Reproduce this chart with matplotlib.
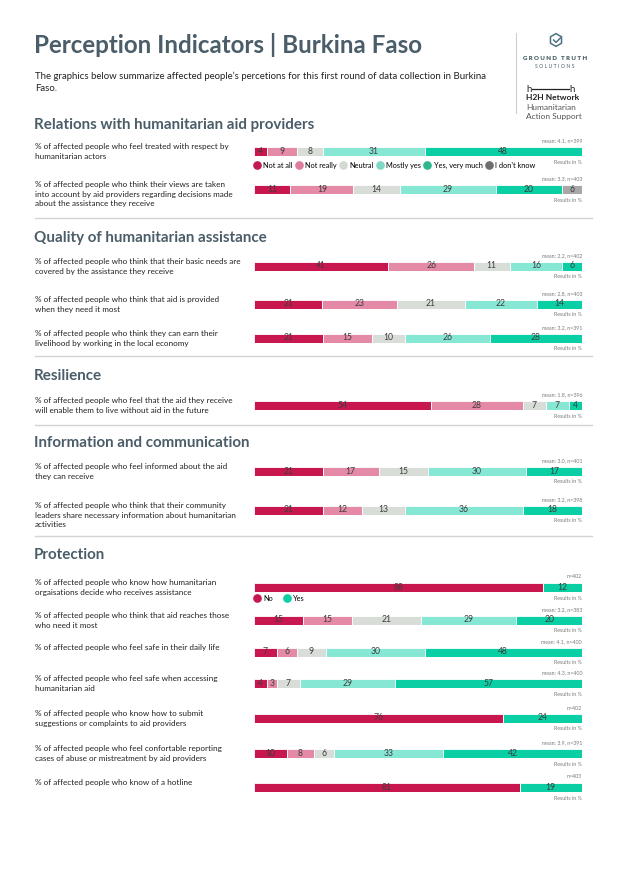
import matplotlib
matplotlib.use("Agg")
import matplotlib.pyplot as plt
from matplotlib.lines import Line2D
from matplotlib.patches import RegularPolygon

# ---- data ---------------------------------------------------------------
TITLE = "Perception Indicators | Burkina Faso"
SUBTITLE = ("The graphics below summarize affected people\u2019s percetions for this first round of data collection in Burkina\n"
            "Faso.")

SECTIONS = [
    "Relations with humanitarian aid providers",
    "Quality of humanitarian assistance",
    "Resilience",
    "Information and communication",
    "Protection",
]

SCALE_LABELS = ["Not at all", "Not really", "Neutral", "Mostly yes", "Yes, very much", "I don't know"]
BINARY_LABELS = ["No", "Yes"]

REL_QUESTIONS = [
    "% of affected people who feel treated with respect by\nhumanitarian actors",
    "% of affected people who think their views are taken\ninto account by aid providers regarding decisions made\nabout the assistance they receive",
]
REL_VALUES = [[4, 9, 8, 31, 48], [11, 19, 14, 29, 20, 6]]
REL_META = ["mean: 4.1, n=399", "mean: 3.3, n=403"]

QUAL_QUESTIONS = [
    "% of affected people who think that their basic needs are\ncovered by the assistance they receive",
    "% of affected people who think that aid is provided\nwhen they need it most",
    "% of affected people who think they can earn their\nlivelihood by working in the local economy",
]
QUAL_VALUES = [[41, 26, 11, 16, 6], [21, 23, 21, 22, 14], [21, 15, 10, 26, 28]]
QUAL_META = ["mean: 2.2, n=402", "mean: 2.8, n=403", "mean: 3.2, n=391"]

RES_QUESTIONS = [
    "% of affected people who feel that the aid they receive\nwill enable them to live without aid in the future",
]
RES_VALUES = [[54, 28, 7, 7, 4]]
RES_META = ["mean: 1.8, n=396"]

INFO_QUESTIONS = [
    "% of affected people who feel informed about the aid\nthey can receive",
    "% of affected people who think that their community\nleaders share necessary information about humanitarian\nactivities",
]
INFO_VALUES = [[21, 17, 15, 30, 17], [21, 12, 13, 36, 18]]
INFO_META = ["mean: 3.0, n=401", "mean: 3.2, n=398"]

PROT_QUESTIONS = [
    "% of affected people who know how humanitarian\norgaisations decide who receives assistance",
    "% of affected people who think that aid reaches those\nwho need it most",
    "% of affected people who feel safe in their daily life",
    "% of affected people who feel safe when accessing\nhumanitarian aid",
    "% of affected people who know how to submit\nsuggestions or complaints to aid providers",
    "% of affected people who feel confortable reporting\ncases of abuse or mistreatment by aid providers",
    "% of affected people who know of a hotline",
]
PROT_VALUES = [[88, 12], [15, 15, 21, 29, 20], [7, 6, 9, 30, 48], [4, 3, 7, 29, 57],
               [76, 24], [10, 8, 6, 33, 42], [81, 19]]
PROT_META = ["n=402", "mean: 3.2, n=383", "mean: 4.1, n=400", "mean: 4.3, n=400",
             "n=402", "mean: 3.9, n=391", "n=403"]

# ---- style --------------------------------------------------------------
SCALE_COLORS = ["#c8174f", "#e48aa6", "#d8ddd8", "#86e8d4", "#0acfa4", "#a8a8a8"]
LEGEND_COLORS = ["#c01a50", "#e07c9c", "#d2dad2", "#80d8c4", "#2cb88e", "#6e6e6e"]
BINARY_COLORS = ["#c8174f", "#0acfa4"]
SLATE = "#4a5d68"
TEXT = "#222222"
META = "#7a7a7a"

plt.rcParams["font.family"] = ["Lato", "DejaVu Sans"]

W, H = 620, 875
BAR_X0, BAR_X1 = 254, 582
BAR_H = 9


def fx(x):
    return x / W


def fy(y):
    return 1 - y / H


def draw_bar(fig, yc, values, meta, binary=False):
    colors = BINARY_COLORS if binary else SCALE_COLORS
    ax = fig.add_axes([fx(BAR_X0), fy(yc + BAR_H / 2), (BAR_X1 - BAR_X0) / W, BAR_H / H])
    left = 0
    for v, c in zip(values, colors):
        ax.barh(0, v, left=left, height=1.0, color=c, edgecolor="white", linewidth=0.6)
        ax.text(left + v / 2, 0, str(v), ha="center", va="center", fontsize=6.2, color="#3c3c3c")
        left += v
    ax.set_xlim(0, sum(values))
    ax.set_ylim(-0.5, 0.5)
    ax.axis("off")
    fig.text(fx(BAR_X1), fy(yc - 10), meta, ha="right", va="center", fontsize=3.8, color=META)
    fig.text(fx(BAR_X1), fy(yc + 11), "Results in %", ha="right", va="center", fontsize=3.8, color=META)
    return ax


def add_legend(ax, labels, colors, y_px, yc, spacing):
    handles = [Line2D([], [], marker="o", linestyle="none", markersize=5.2,
                      markerfacecolor=c, markeredgecolor=c) for c in colors]
    top = (yc + BAR_H / 2 - (y_px - 4)) / BAR_H
    ax.legend(handles, labels, loc="upper left", bbox_to_anchor=(0.0, top),
              ncol=len(labels), frameon=False, fontsize=5.3, borderpad=0,
              handlelength=0.8, handletextpad=0.45, columnspacing=spacing,
              borderaxespad=0)


def plot():
    fig = plt.figure(figsize=(6.2, 8.75), dpi=100)

    # header
    fig.text(fx(34), fy(45), TITLE, fontsize=17.4, fontweight="bold", color=SLATE,
             ha="left", va="center")
    fig.text(fx(35), fy(72), SUBTITLE, fontsize=6.9, color=TEXT, ha="left", va="top",
             linespacing=1.35)

    # logos
    fig.add_artist(Line2D([fx(516), fx(516)], [fy(33), fy(113)], color="#cfcfcf", lw=0.8))
    lax = fig.add_axes([fx(548), fy(48), 16 / W, 16 / H])
    lax.add_patch(RegularPolygon((0, 0), 6, radius=0.8, fill=False, ec="#4f7384", lw=1.1))
    lax.plot([-0.3, 0.0, 0.55], [0.0, -0.3, 0.25], color="#4f7384", lw=1.1)
    lax.set_xlim(-1, 1)
    lax.set_ylim(-1, 1)
    lax.set_aspect("equal")
    lax.axis("off")
    fig.text(fx(555), fy(58), "G R O U N D   T R U T H", fontsize=4.4, fontweight="heavy",
             color=SLATE, ha="center", va="center")
    fig.text(fx(555), fy(66), "S O L U T I O N S", fontsize=3.7, color=SLATE,
             ha="center", va="center")
    fig.text(fx(526), fy(89), "h", fontsize=7, color=TEXT, ha="left", va="center")
    fig.add_artist(Line2D([fx(532), fx(569)], [fy(88.5), fy(88.5)], color=TEXT, lw=0.9))
    fig.text(fx(569), fy(89), "h", fontsize=7, color=TEXT, ha="left", va="center")
    fig.text(fx(526), fy(98), "H2H Network", fontsize=6.1, fontweight="bold", color=TEXT,
             ha="left", va="center")
    fig.text(fx(526), fy(107), "Humanitarian", fontsize=6.0, color="#555555", ha="left", va="center")
    fig.text(fx(526), fy(116), "Action Support", fontsize=6.0, color="#555555", ha="left", va="center")

    # layout of the sections: title y, bar centres, separator y
    layout = [
        (125, [151, 189], 218),
        (238, [266, 304, 338], 356),
        (376, [405], 425),
        (443, [471, 510], 536),
        (555, [587, 620, 652, 683, 718, 753, 787], None),
    ]
    questions = [REL_QUESTIONS, QUAL_QUESTIONS, RES_QUESTIONS, INFO_QUESTIONS, PROT_QUESTIONS]
    values = [REL_VALUES, QUAL_VALUES, RES_VALUES, INFO_VALUES, PROT_VALUES]
    metas = [REL_META, QUAL_META, RES_META, INFO_META, PROT_META]

    bar_axes = []
    for name, (ty, rows, sep), qs, vals, ms in zip(SECTIONS, layout, questions, values, metas):
        fig.text(fx(34), fy(ty), name, fontsize=10.9, fontweight="bold", color=SLATE,
                 ha="left", va="center")
        axs = []
        for yc, q, v, m in zip(rows, qs, vals, ms):
            fig.text(fx(35), fy(yc - 8), q, fontsize=5.9, color=TEXT, ha="left", va="top",
                     linespacing=1.45)
            axs.append(draw_bar(fig, yc, v, m, binary=len(v) == 2))
        bar_axes.append(axs)
        if sep is not None:
            fig.add_artist(Line2D([fx(35), fx(592)], [fy(sep), fy(sep)], color="#d4d4d4", lw=1.0))

    add_legend(bar_axes[0][0], SCALE_LABELS, LEGEND_COLORS, 166, 151, 0.45)
    add_legend(bar_axes[4][0], BINARY_LABELS, BINARY_COLORS, 599, 587, 1.5)

    fig.savefig("out.png", dpi=100, facecolor="white")
    plt.close(fig)


if __name__ == "__main__":
    plot()
